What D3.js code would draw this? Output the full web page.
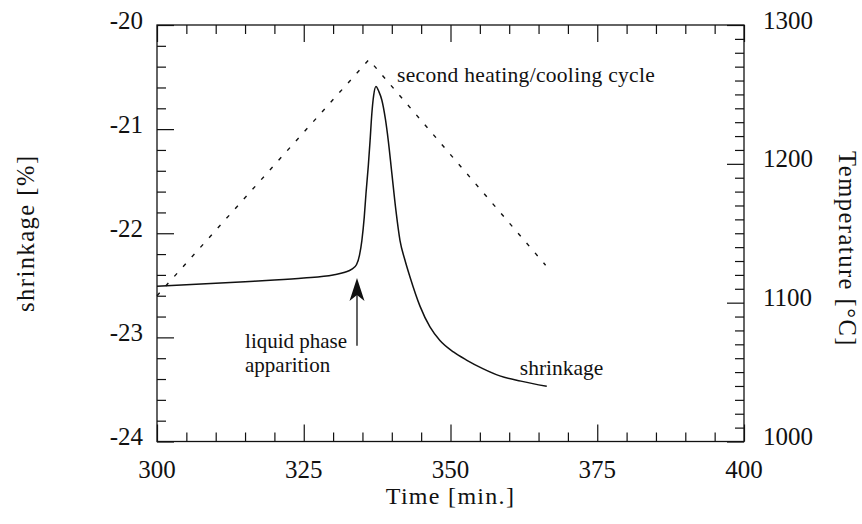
<!DOCTYPE html>
<html>
<head>
<meta charset="utf-8">
<script src="https://cdn.jsdelivr.net/npm/d3@7"></script>
<style>
  body { margin: 0; background: #fff; }
  svg { display: block; }
  text { font-family: "Liberation Serif", "Times New Roman", serif; fill: #111; }
</style>
</head>
<body>
<svg id="chart" width="862" height="524"></svg>
<script>
// Shrinkage during the second heating/cooling cycle (left axis, %)
const shrinkTime  = [300, 305, 310, 315, 320, 325, 330, 332, 333.2, 334.0, 334.5, 334.9, 335.3, 335.6, 336.0, 336.3, 336.6, 336.9, 337.3, 337.8, 338.3, 338.9, 339.4, 340.0, 340.7, 341.4, 342.2, 343.1, 344.8, 346.5, 348.2, 350.5, 352.8, 355.5, 358.4, 362.0, 366.4];
const shrinkValue = [-22.51, -22.495, -22.48, -22.465, -22.45, -22.43, -22.40, -22.375, -22.345, -22.30, -22.21, -22.07, -21.85, -21.62, -21.35, -21.11, -20.85, -20.68, -20.59, -20.64, -20.72, -20.9, -21.11, -21.42, -21.78, -22.07, -22.25, -22.42, -22.70, -22.90, -23.03, -23.14, -23.22, -23.30, -23.37, -23.42, -23.47];

// Furnace temperature programme (right axis, °C)
const tempTime  = [300, 336.1, 366.2];
const tempValue = [1105, 1275, 1127];

// Axis ticks and their labels
const timeTicks = [300, 325, 350, 375, 400];
const timeTickLabels = ["300", "325", "350", "375", "400"];
const shrinkTicks = [-24, -23, -22, -21, -20];
const shrinkTickLabels = ["-24", "-23", "-22", "-21", "-20"];
const tempTicks = [1000, 1100, 1200, 1300];
const tempTickLabels = ["1000", "1100", "1200", "1300"];

// Liquid-phase marker position
const liquidTime = 334.07;
const liquidArrowFrom = -23.08;
const liquidArrowTo = -22.43;

const svg = d3.select("#chart");
const L = 157, R = 744, T = 25, B = 441.5;

const x  = d3.scaleLinear().domain([300, 400]).range([L, R]);
const yS = d3.scaleLinear().domain([-24, -20]).range([B, T]);
const yT = d3.scaleLinear().domain([1000, 1300]).range([B, T]);

const MAJOR = 17, MINOR = 9;

function tickAxis(axisFn, scale, values, size, transform) {
  const g = svg.append("g")
    .attr("transform", transform)
    .call(axisFn(scale).tickValues(values).tickSize(-size).tickSizeOuter(0).tickFormat(""));
  g.select(".domain").remove();
  g.selectAll(".tick line").attr("stroke", "#111").attr("stroke-width", 1.2);
  return g;
}

const xMinor = d3.range(300, 400.01, 5).filter(v => !timeTicks.includes(v));
const sMinor = d3.range(-24, -19.99, 0.2).map(v => +v.toFixed(1)).filter(v => !shrinkTicks.includes(v));
const tMinor = d3.range(1000, 1300.1, 10).filter(v => !tempTicks.includes(v));

// bottom and top
tickAxis(d3.axisBottom, x, timeTicks, MAJOR, `translate(0,${B})`);
tickAxis(d3.axisBottom, x, xMinor, MINOR, `translate(0,${B})`);
tickAxis(d3.axisTop, x, timeTicks, MAJOR, `translate(0,${T})`);
tickAxis(d3.axisTop, x, xMinor, MINOR, `translate(0,${T})`);
// left (shrinkage) and right (temperature)
tickAxis(d3.axisLeft, yS, shrinkTicks, MAJOR, `translate(${L},0)`);
tickAxis(d3.axisLeft, yS, sMinor, MINOR, `translate(${L},0)`);
tickAxis(d3.axisRight, yT, tempTicks, MAJOR, `translate(${R},0)`);
tickAxis(d3.axisRight, yT, tMinor, MINOR, `translate(${R},0)`);

// frame
svg.append("rect")
  .attr("x", L).attr("y", T).attr("width", R - L).attr("height", B - T)
  .attr("fill", "none").attr("stroke", "#111").attr("stroke-width", 1.3);

// tick labels
svg.append("g").selectAll("text").data(timeTicks).join("text")
  .attr("x", d => x(d)).attr("y", B + 36)
  .attr("text-anchor", "middle").attr("font-size", 25)
  .text((d, i) => timeTickLabels[i]);

svg.append("g").selectAll("text").data(shrinkTicks).join("text")
  .attr("x", L - 14).attr("y", d => yS(d) + 3.5)
  .attr("text-anchor", "end").attr("font-size", 25)
  .text((d, i) => shrinkTickLabels[i]);

svg.append("g").selectAll("text").data(tempTicks).join("text")
  .attr("x", R + 19).attr("y", d => yT(d) + 3.5)
  .attr("text-anchor", "start").attr("font-size", 25)
  .text((d, i) => tempTickLabels[i]);

// axis titles
svg.append("text")
  .attr("transform", `translate(${(L + R) / 2},504)`)
  .attr("text-anchor", "middle").attr("font-size", 24).attr("letter-spacing", 1.3)
  .text("Time [min.]");

svg.append("text")
  .attr("transform", `translate(34,${(T + B) / 2}) rotate(-90)`)
  .attr("text-anchor", "middle").attr("font-size", 24.5).attr("letter-spacing", 1.5)
  .text("shrinkage [%]");

svg.append("text")
  .attr("transform", `translate(839,249) rotate(90)`)
  .attr("text-anchor", "middle").attr("font-size", 24.5).attr("letter-spacing", 1.5)
  .text("Temperature [°C]");

// temperature programme (dashed)
const tempData = tempTime.map((t, i) => [t, tempValue[i]]);
svg.append("path")
  .datum(tempData)
  .attr("fill", "none").attr("stroke", "#111").attr("stroke-width", 1.4)
  .attr("stroke-dasharray", "4,9")
  .attr("d", d3.line().x(d => x(d[0])).y(d => yT(d[1])));

// shrinkage curve
const shrinkData = shrinkTime.map((t, i) => [t, shrinkValue[i]]);
svg.append("path")
  .datum(shrinkData)
  .attr("fill", "none").attr("stroke", "#111").attr("stroke-width", 1.5)
  .attr("stroke-linejoin", "round")
  .attr("d", d3.line().x(d => x(d[0])).y(d => yS(d[1])).curve(d3.curveMonotoneX));

// liquid phase arrow
const ax = x(liquidTime), ty = yS(liquidArrowTo), by = yS(liquidArrowFrom);
svg.append("line")
  .attr("x1", ax).attr("x2", ax).attr("y1", by).attr("y2", ty + 10)
  .attr("stroke", "#111").attr("stroke-width", 1.3);
svg.append("path")
  .attr("d", `M${ax},${ty} L${ax + 7.5},${ty + 23} L${ax},${ty + 17} L${ax - 7.5},${ty + 23} Z`)
  .attr("fill", "#111");

// annotations
svg.append("text")
  .attr("x", x(340.9)).attr("y", yS(-20.545)).attr("font-size", 21.5).attr("letter-spacing", 0.3)
  .text("second heating/cooling cycle");
svg.append("text")
  .attr("x", x(315.0)).attr("y", yS(-23.106)).attr("font-size", 21)
  .text("liquid phase");
svg.append("text")
  .attr("x", x(315.0)).attr("y", yS(-23.337)).attr("font-size", 21)
  .text("apparition");
svg.append("text")
  .attr("x", x(361.8)).attr("y", yS(-23.365)).attr("font-size", 21.5)
  .text("shrinkage");
</script>
</body>
</html>
